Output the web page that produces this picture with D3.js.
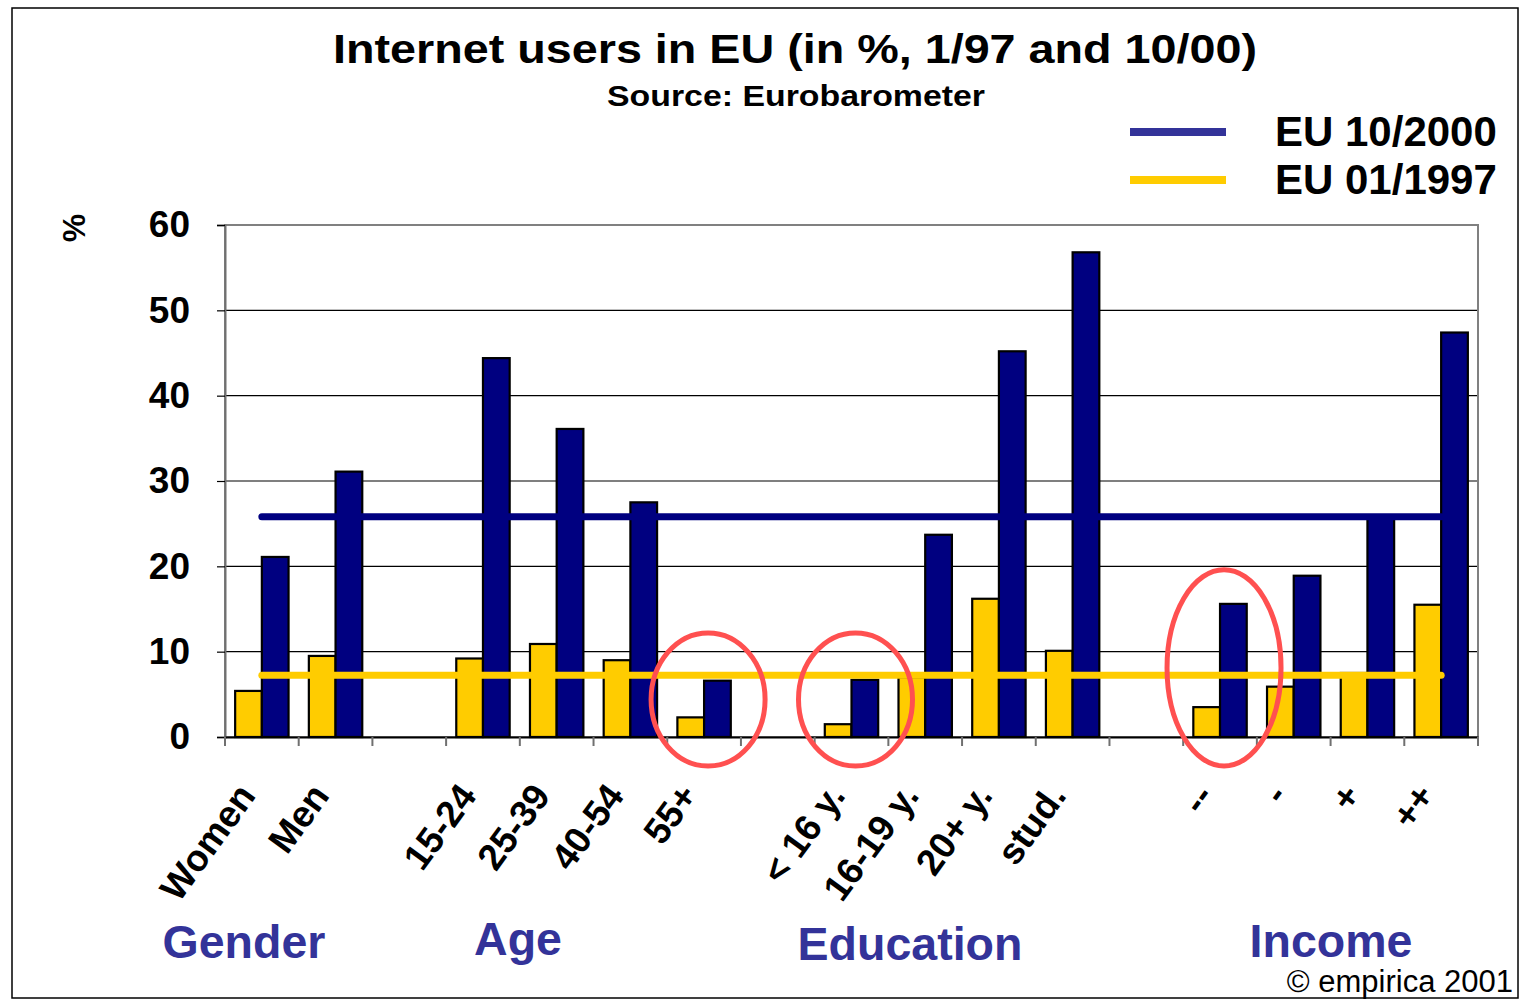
<html>
<head>
<meta charset="utf-8" />
<title>Internet users in EU</title>
<script src="https://d3js.org/d3.v7.min.js"></script>
<style>
  body { margin: 0; background: white; }
  text { font-family: Arial, "Liberation Sans", sans-serif; }
  .grid line { stroke: black; stroke-width: 1.2; }
  .bar { stroke: black; stroke-width: 2.2; }
</style>
</head>
<body>
<script>
// chart data
var categories = ["Women", "Men", "", "15-24", "25-39", "40-54", "55+", "",
                  "< 16 y.", "16-19 y.", "20+ y.", "stud.", "", "--", "-", "+", "++"];
var values2000 = [21.1, 31.1, null, 44.4, 36.1, 27.5, 6.6, null,
                  6.7, 23.7, 45.2, 56.8, null, 15.6, 18.9, 25.7, 47.4];
var values1997 = [5.4, 9.5, null, 9.2, 10.9, 9.0, 2.3, null,
                  1.5, 7.0, 16.2, 10.1, null, 3.5, 5.9, 7.5, 15.5];
var euAverage2000 = 25.8;
var euAverage1997 = 7.25;
var groupNames = ["Gender", "Age", "Education", "Income"];
var seriesNames = ["EU 10/2000", "EU 01/1997"];
var yTicks = [0, 10, 20, 30, 40, 50, 60];
// circled categories: [category, top value, bottom value]
var highlights = [["55+", 12.2, -3.4], ["< 16 y.", 12.2, -3.4], ["--", 19.6, -3.4]];

var W = 1526, H = 1000;
var plot = {left: 225, right: 1478, top: 225, bottom: 737};

var svg = d3.select("body").append("svg")
    .attr("width", W)
    .attr("height", H);

// outer frame
svg.append("rect")
    .attr("x", 12).attr("y", 8)
    .attr("width", 1506).attr("height", 990)
    .attr("fill", "white")
    .attr("stroke", "black")
    .attr("stroke-width", 1.5);

var x0 = d3.scaleBand()
    .domain(d3.range(categories.length))
    .range([plot.left, plot.right]);

var x1 = d3.scaleBand()
    .domain(["y1997", "y2000"])
    .range([0, x0.bandwidth()])
    .paddingOuter(0.38);

var y = d3.scaleLinear()
    .domain([0, 60])
    .range([plot.bottom, plot.top]);

// grid lines
svg.append("g")
    .attr("class", "grid")
    .selectAll("line")
    .data(yTicks.filter(function(d) { return d > 0 && d < 60; }))
    .enter().append("line")
    .attr("x1", plot.left).attr("x2", plot.right)
    .attr("y1", function(d) { return y(d); })
    .attr("y2", function(d) { return y(d); });

// plot area border
svg.append("rect")
    .attr("x", plot.left).attr("y", plot.top)
    .attr("width", plot.right - plot.left)
    .attr("height", plot.bottom - plot.top)
    .attr("fill", "none")
    .attr("stroke", "#808080")
    .attr("stroke-width", 2);

// y axis
var yAxis = d3.axisLeft(y).tickValues(yTicks).tickSize(8).tickPadding(27);
var gy = svg.append("g")
    .attr("transform", "translate(" + plot.left + ",0)")
    .call(yAxis);
gy.select(".domain").attr("stroke", "#707070").attr("stroke-width", 2);
gy.selectAll(".tick line").attr("stroke", "black").attr("stroke-width", 1.2);
gy.selectAll(".tick text")
    .attr("font-size", 37)
    .attr("font-weight", "bold")
    .attr("font-family", "Arial, 'Liberation Sans', sans-serif")
    .attr("fill", "black");

// x axis ticks at category boundaries
var xAxis = d3.axisBottom(x0).tickSize(0).tickFormat("");
var gx = svg.append("g")
    .attr("transform", "translate(0," + plot.bottom + ")")
    .call(xAxis);
gx.select(".domain").attr("stroke", "black").attr("stroke-width", 2);
gx.selectAll(".bound")
    .data(d3.range(categories.length + 1))
    .enter().append("line")
    .attr("class", "bound")
    .attr("x1", function(i) { return plot.left + i * x0.step(); })
    .attr("x2", function(i) { return plot.left + i * x0.step(); })
    .attr("y1", 0).attr("y2", 9)
    .attr("stroke", "#707070")
    .attr("stroke-width", 2);

// bars
var rows = categories.map(function(c, i) {
  return {i: i, y1997: values1997[i], y2000: values2000[i]};
});

var colours = {y1997: "#ffcc00", y2000: "#000080"};

var grp = svg.append("g").selectAll("g")
    .data(rows.filter(function(r) { return r.y2000 != null; }))
    .enter().append("g")
    .attr("transform", function(r) { return "translate(" + x0(r.i) + ",0)"; });

grp.selectAll("rect")
    .data(function(r) { return ["y1997", "y2000"].map(function(k) { return {key: k, v: r[k]}; }); })
    .enter().append("rect")
    .attr("class", "bar")
    .attr("x", function(d) { return x1(d.key); })
    .attr("width", x1.bandwidth())
    .attr("y", function(d) { return y(d.v); })
    .attr("height", function(d) { return y(0) - y(d.v); })
    .attr("fill", function(d) { return colours[d.key]; });

// EU average lines
var line = d3.line()
    .x(function(i) { return x0(i) + x0.bandwidth() / 2; });

[[euAverage1997, "#ffcc00"], [euAverage2000, "#000080"]].forEach(function(s) {
  svg.append("path")
      .datum(d3.range(categories.length))
      .attr("d", line.y(function() { return y(s[0]); }))
      .attr("fill", "none")
      .attr("stroke", s[1])
      .attr("stroke-width", 7)
      .attr("stroke-linecap", "round");
});

// red highlight ellipses
svg.append("g").selectAll("ellipse")
    .data(highlights)
    .enter().append("ellipse")
    .attr("cx", function(h) { return x0(categories.indexOf(h[0])) + x0.bandwidth() / 2 + 4; })
    .attr("cy", function(h) { return (y(h[1]) + y(h[2])) / 2; })
    .attr("rx", 57)
    .attr("ry", function(h) { return (y(h[2]) - y(h[1])) / 2; })
    .attr("fill", "none")
    .attr("stroke", "#ff5050")
    .attr("stroke-width", 5);

// category labels (rotated)
svg.append("g").selectAll("text")
    .data(categories)
    .enter().append("text")
    .attr("transform", function(c, i) {
      return "translate(" + (x0(i) + x0.bandwidth() / 2 - 5) + ",796) rotate(-54)";
    })
    .attr("text-anchor", "end")
    .attr("font-size", 37)
    .attr("font-weight", "bold")
    .text(function(c) { return c; });

// group labels
var groupX = [244, 518, 910, 1331];
var groupY = [958, 955, 960, 957];
svg.append("g").selectAll("text")
    .data(groupNames)
    .enter().append("text")
    .attr("x", function(d, i) { return groupX[i]; })
    .attr("y", function(d, i) { return groupY[i]; })
    .attr("text-anchor", "middle")
    .attr("font-size", 46.5)
    .attr("font-weight", "bold")
    .attr("fill", "#333399")
    .text(function(d) { return d; });

// y axis unit
svg.append("text")
    .attr("transform", "translate(85,228) rotate(-90)")
    .attr("text-anchor", "middle")
    .attr("font-size", 32)
    .attr("font-weight", "bold")
    .text("%");

// title
svg.append("text")
    .attr("x", 795).attr("y", 63)
    .attr("text-anchor", "middle")
    .attr("font-size", 40)
    .attr("font-weight", "bold")
    .attr("textLength", 924)
    .attr("lengthAdjust", "spacingAndGlyphs")
    .text("Internet users in EU (in %, 1/97 and 10/00)");

svg.append("text")
    .attr("x", 796).attr("y", 106)
    .attr("text-anchor", "middle")
    .attr("font-size", 29)
    .attr("font-weight", "bold")
    .attr("textLength", 378)
    .attr("lengthAdjust", "spacingAndGlyphs")
    .text("Source: Eurobarometer");

// legend
var legendColours = ["#333399", "#ffcc00"];
var leg = svg.append("g").selectAll("g")
    .data(seriesNames)
    .enter().append("g")
    .attr("transform", function(d, i) { return "translate(1130," + (132 + i * 48) + ")"; });
leg.append("line")
    .attr("x1", 0).attr("x2", 96)
    .attr("stroke", function(d, i) { return legendColours[i]; })
    .attr("stroke-width", 8);
leg.append("text")
    .attr("x", 145).attr("y", 14)
    .attr("font-size", 42)
    .attr("font-weight", "bold")
    .text(function(d) { return d; });

// copyright
svg.append("text")
    .attr("x", 1513).attr("y", 992)
    .attr("text-anchor", "end")
    .attr("font-size", 31)
    .text("\u00a9 empirica 2001");
</script>
</body>
</html>
